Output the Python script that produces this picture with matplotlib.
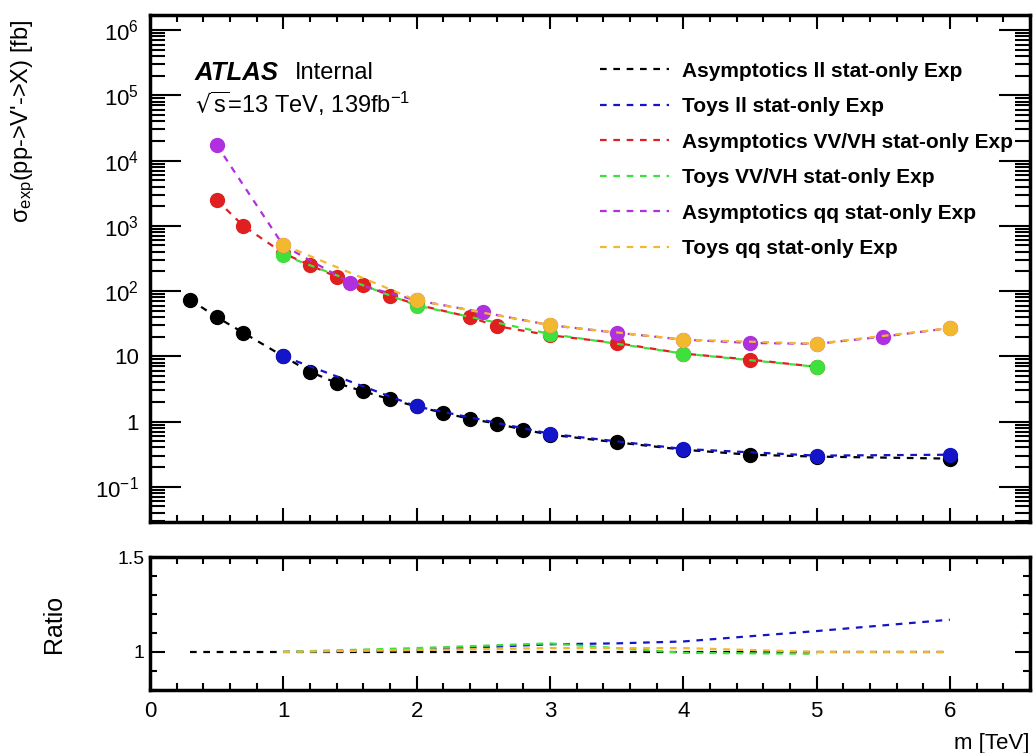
import matplotlib
matplotlib.use("Agg")
import matplotlib.pyplot as plt
from matplotlib.ticker import FixedLocator, MultipleLocator, LogLocator, NullFormatter

plt.rcParams["font.family"] = ["Liberation Sans", "DejaVu Sans"]
plt.rcParams["mathtext.default"] = "regular"

# ll channel
ll_asym_x = [0.3, 0.5, 0.7, 1.0, 1.2, 1.4, 1.6, 1.8, 2.0, 2.2, 2.4, 2.6, 2.8, 3.0, 3.5, 4.0, 4.5, 5.0, 6.0]
ll_asym_y = [74, 40, 23, 10, 5.8, 3.9, 2.9, 2.2, 1.7, 1.36, 1.1, 0.93, 0.75, 0.63, 0.48, 0.37, 0.31, 0.29, 0.27]
ll_toys_x = [1, 2, 3, 4, 5, 6]
ll_toys_y = [10, 1.7, 0.65, 0.38, 0.30, 0.31]

# VV/VH channel
vv_asym_x = [0.5, 0.7, 1.0, 1.2, 1.4, 1.6, 1.8, 2.0, 2.4, 2.6, 3.0, 3.5, 4.0, 4.5, 5.0]
vv_asym_y = [2500, 1000, 380, 250, 165, 125, 85, 62, 40, 29, 21, 16, 11, 8.9, 6.9]
vv_toys_x = [1, 2, 3, 4, 5]
vv_toys_y = [355, 60, 22, 11, 6.9]

# qq channel
qq_asym_x = [0.5, 1.0, 1.5, 2.0, 2.5, 3.0, 3.5, 4.0, 4.5, 5.0, 5.5, 6.0]
qq_asym_y = [17500, 500, 135, 72, 47, 30, 23, 18, 16, 15.5, 20, 27]
qq_toys_x = [1, 2, 3, 4, 5, 6]
qq_toys_y = [510, 72, 30, 18, 15.6, 27]

# ratio panel (toys / asymptotics)
ratio_ref_x = [0.3, 6.0]
ratio_ref_y = [1.0, 1.0]
ratio_ll_x = [1, 2, 2.5, 3, 3.5, 4, 5, 6]
ratio_ll_y = [1.0, 1.01, 1.025, 1.04, 1.045, 1.055, 1.11, 1.17]
ratio_vv_x = [1, 2, 3, 4, 5]
ratio_vv_y = [1.0, 1.02, 1.045, 0.995, 0.99]
ratio_qq_x = [1, 2, 3, 4, 5, 6]
ratio_qq_y = [1.0, 1.01, 1.02, 1.02, 1.0, 1.0]

labels = ["Asymptotics ll stat-only Exp", "Toys ll stat-only Exp",
          "Asymptotics VV/VH stat-only Exp", "Toys VV/VH stat-only Exp",
          "Asymptotics qq stat-only Exp", "Toys qq stat-only Exp"]
colors = ["black", "#1414c8", "#e02020", "#3ee03e", "#b030e0", "#f2b830"]

y_ticks = [0.1, 1, 10, 100, 1e3, 1e4, 1e5, 1e6]
y_ticklabels = ["$10^{-1}$", "1", "10", "$10^{2}$", "$10^{3}$", "$10^{4}$", "$10^{5}$", "$10^{6}$"]

dash = (0, (3, 3))

fig = plt.figure(figsize=(10.34, 7.53), dpi=100)
ax = fig.add_axes([0.145, 0.307, 0.851, 0.673])
axr = fig.add_axes([0.145, 0.084, 0.851, 0.176])

series = [(ll_asym_x, ll_asym_y), (ll_toys_x, ll_toys_y),
          (vv_asym_x, vv_asym_y), (vv_toys_x, vv_toys_y),
          (qq_asym_x, qq_asym_y), (qq_toys_x, qq_toys_y)]
for (x, y), c, lab in zip(series, colors, labels):
    ax.plot(x, y, color=c, linestyle=dash, linewidth=1.6)
    ax.plot(x, y, "o", color=c, markersize=10, linestyle="none")
    ax.plot([], [], color=c, linestyle=dash, linewidth=1.6, label=lab)

ax.set_yscale("log")
ax.set_xlim(0, 6.6)
ax.set_ylim(0.029, 1.7e6)
ax.yaxis.set_major_locator(FixedLocator(y_ticks))
ax.set_yticklabels(y_ticklabels)
ax.yaxis.set_minor_locator(LogLocator(base=10, subs=range(2, 10), numticks=20))
ax.yaxis.set_minor_formatter(NullFormatter())
ax.xaxis.set_major_locator(MultipleLocator(1))
ax.xaxis.set_minor_locator(MultipleLocator(0.2))
ax.set_xticklabels([])
ax.tick_params(which="both", direction="in", top=True, right=True, labelsize=16, width=1.5)
ax.tick_params(axis="y", which="major", length=22, pad=8)
ax.tick_params(axis="y", which="minor", length=11)
ax.tick_params(axis="x", which="major", length=10)
ax.tick_params(axis="x", which="minor", length=5)
for s in ax.spines.values():
    s.set_linewidth(2.5)

ax.set_ylabel("$\\sigma_{exp}$(pp->V'->X) [fb]", fontsize=17, loc="top")
ax.yaxis.set_label_coords(-0.128, 0.99)

ax.text(0.051, 0.886, "ATLAS", transform=ax.transAxes, fontsize=18.5, fontweight="bold",
        fontstyle="italic", va="center", ha="left")
ax.text(0.165, 0.886, "Internal", transform=ax.transAxes, fontsize=17, va="center", ha="left")
ax.text(0.051, 0.825, "$\\sqrt{s}$=13 TeV, 139fb$^{-1}$", transform=ax.transAxes, fontsize=17,
        va="center", ha="left")

leg = ax.legend(loc="upper left", bbox_to_anchor=(0.49, 0.945), frameon=False,
                prop={"weight": "bold", "size": 15}, handlelength=3.3, labelspacing=0.79,
                handletextpad=0.65)

# ratio panel
axr.plot(ratio_ref_x, ratio_ref_y, color="black", linestyle=dash, linewidth=1.6)
axr.plot(ratio_ll_x, ratio_ll_y, color=colors[1], linestyle=dash, linewidth=1.6)
axr.plot(ratio_vv_x, ratio_vv_y, color=colors[3], linestyle=dash, linewidth=1.6)
axr.plot(ratio_qq_x, ratio_qq_y, color=colors[5], linestyle=dash, linewidth=1.6)
axr.set_xlim(0, 6.6)
axr.set_ylim(0.8, 1.5)
axr.yaxis.set_major_locator(FixedLocator([1.0, 1.5]))
axr.set_yticklabels(["1", "1.5"])
axr.yaxis.set_minor_locator(MultipleLocator(0.1))
axr.xaxis.set_major_locator(MultipleLocator(1))
axr.xaxis.set_minor_locator(MultipleLocator(0.2))
axr.tick_params(which="both", direction="in", top=True, right=True, labelsize=16, width=1.5)
axr.tick_params(axis="y", which="major", length=11, pad=4, labelsize=14)
axr.tick_params(axis="y", which="minor", length=5)
axr.tick_params(axis="x", which="major", length=10, pad=8)
axr.tick_params(axis="x", which="minor", length=5)
for s in axr.spines.values():
    s.set_linewidth(2.5)
axr.set_ylabel("Ratio", fontsize=18)
axr.yaxis.set_label_coords(-0.095, 0.5)
axr.set_xlabel("m [TeV]", fontsize=16, loc="right")
axr.xaxis.set_label_coords(1.0, -0.33)

fig.savefig("out.png", dpi=100)
